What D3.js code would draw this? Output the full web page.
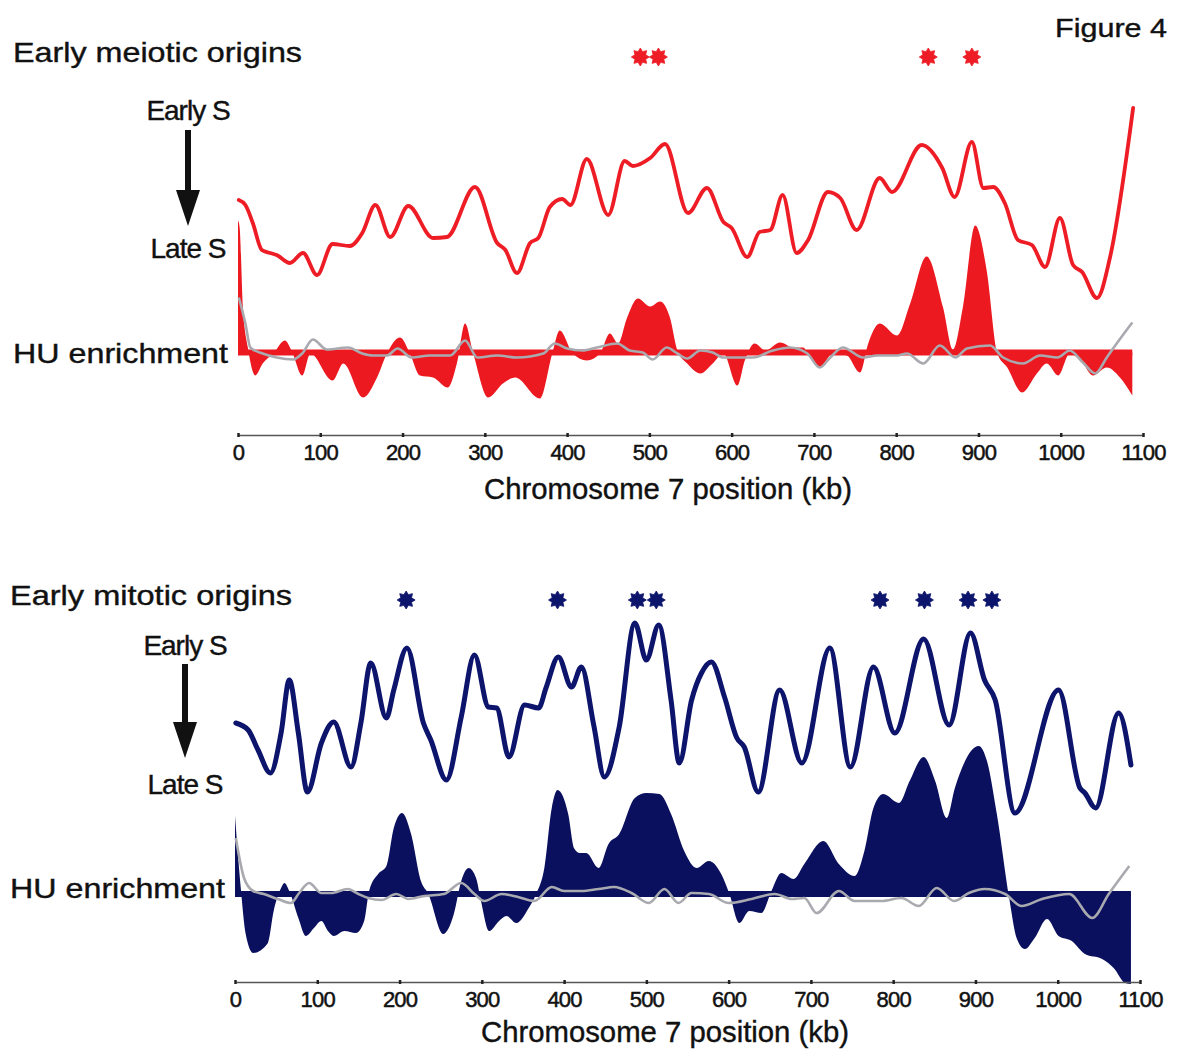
<!DOCTYPE html>
<html>
<head>
<meta charset="utf-8">
<script src="https://cdn.jsdelivr.net/npm/d3@7"></script>
<style>
  html, body { margin: 0; padding: 0; background: #ffffff; }
  svg text { font-family: "Liberation Sans", Arial, Helvetica, sans-serif; fill: #111; }
</style>
</head>
<body>
<svg id="fig" width="1178" height="1053"></svg>
<script>
// Chromosome 7 tick positions (kb)
const xTicks = [0, 100, 200, 300, 400, 500, 600, 700, 800, 900, 1000, 1100];

// Meiotic replication timing profile: [position kb, relative timing]
const meioticTiming = [[1,12.0],[9,11.5],[18,9.7],[29,7.0],[39,6.7],[47,6.5],[63,5.7],[79,6.7],[96,4.5],[115,7.6],[136,7.4],[151,8.7],[167,11.5],[185,8.3],[207,11.4],[237,8.2],[254,8.3],[288,13.3],[315,7.7],[325,7.0],[339,4.7],[355,7.7],[365,8.2],[379,11.3],[394,12.1],[404,11.5],[424,16.1],[450,10.5],[470,15.9],[480,15.4],[501,16.2],[519,17.6],[547,10.7],[570,13.2],[590,9.8],[600,9.2],[619,6.3],[634,8.8],[647,9.0],[662,12.5],[679,6.7],[693,8.0],[717,12.8],[732,12.2],[752,9.0],[780,14.2],[795,12.8],[831,17.5],[856,15.2],[871,12.3],[892,17.8],[906,13.2],[918,13.3],[932,11.7],[948,8.0],[965,7.5],[981,5.3],[999,10.2],[1015,5.5],[1026,4.8],[1044,2.2],[1060,6.3],[1088,21.2]];

// Meiotic HU enrichment: [position kb, enrichment]
const meioticHU = [[0,13.2],[2,12.5],[6,4.5],[12,0.5],[21,-2.3],[30,-1.1],[43,-0.1],[57,1.2],[66,0],[78,-2.3],[88,-0.1],[115,-2.8],[128,-1.1],[152,-4.5],[169,-2.5],[181,-0.1],[197,1.5],[209,-0.1],[221,-2.3],[237,-2.5],[255,-3.5],[266,-1.1],[276,2.9],[286,-0.1],[304,-4.5],[322,-3.1],[337,-2.5],[367,-4.6],[382,-0.1],[391,2.2],[407,-0.1],[424,-0.8],[440,-0.1],[452,1.9],[462,0.9],[473,3.5],[486,5.4],[501,4.6],[513,5.1],[525,3.5],[534,0.2],[546,-1.1],[562,-2.1],[577,-1.1],[590,-0.1],[607,-3.3],[616,-0.8],[628,0.9],[641,0.2],[659,1.0],[675,0.5],[687,0.5],[695,-0.5],[707,-1.5],[723,-0.1],[740,-0.3],[756,-2.0],[766,0.9],[780,2.9],[801,1.7],[817,4.9],[837,9.6],[857,4.5],[869,0.3],[881,4.5],[896,12.7],[910,8.2],[923,-0.1],[935,-1.5],[953,-4.0],[971,-2.1],[983,-1.1],[997,-2.3],[1011,-0.1],[1027,-1.1],[1039,-2.3],[1056,-1.5],[1072,-2.5],[1087,-4.3]];

// Meiotic control (no HU) enrichment: [position kb, enrichment]
const meioticControl = [[1,5.5],[9,2.9],[15,0.5],[30,-0.1],[47,-0.5],[67,-0.7],[78,-0.1],[91,1.3],[108,0.3],[134,0.5],[151,-0.1],[164,-0.3],[181,-0.3],[194,0.4],[211,-0.5],[233,-0.3],[258,-0.3],[276,1.2],[291,-0.5],[315,-0.3],[339,-0.5],[371,-0.1],[385,0.9],[400,0.4],[419,0.2],[436,0.5],[461,0.9],[476,0.2],[492,0],[504,-0.7],[521,0.5],[534,-0.1],[546,-0.6],[562,0.2],[577,0],[590,-0.5],[626,-0.5],[650,0.2],[671,0.5],[692,-0.1],[707,-1.5],[720,-0.5],[735,0.5],[760,-0.5],[777,-0.3],[801,-0.3],[813,-0.1],[833,-1.1],[853,0.7],[872,-0.5],[886,0.4],[914,0.7],[930,-0.5],[954,-1.1],[975,-0.3],[996,-0.5],[1011,0.2],[1027,-1.0],[1042,-2.1],[1056,-0.5],[1068,0.9],[1087,3.0]];

// Early meiotic origins (kb)
const meioticOrigins = [489, 511, 839, 892];

// Mitotic replication timing profile: [position kb, relative timing]
const mitoticTiming = [[1,13.8],[16,13.1],[28,11.1],[43,8.8],[56,12.8],[66,18.1],[77,12.8],[88,6.9],[105,11.8],[120,13.9],[141,9.4],[153,13.8],[165,19.8],[184,14.3],[193,17.1],[209,21.3],[229,13.8],[238,12.1],[257,8.1],[275,14.4],[291,20.6],[308,15.4],[318,15.3],[333,10.4],[352,15.6],[369,15.3],[378,17.3],[393,20.4],[409,17.4],[421,19.4],[436,13.6],[449,8.4],[467,13.4],[486,23.8],[500,20.1],[515,23.6],[530,16.1],[540,9.8],[555,16.1],[567,18.8],[579,19.9],[595,16.4],[610,12.3],[619,11.4],[636,6.9],[662,17.1],[689,9.8],[723,21.3],[748,9.4],[776,19.4],[802,12.8],[837,22.2],[868,13.6],[894,22.8],[911,18.1],[924,16.1],[948,4.8],[1001,17.1],[1027,7.3],[1033,6.8],[1046,5.3],[1074,14.8],[1089,9.6]];

// Mitotic HU enrichment: [position kb, enrichment]
const mitoticHU = [[0,7.8],[7,0.6],[13,-4.0],[22,-5.9],[40,-4.9],[47,-1.7],[56,0.6],[60,1.1],[66,0.3],[77,-2.4],[86,-4.2],[96,-3.4],[105,-2.7],[113,-3.7],[120,-4.2],[133,-3.7],[147,-3.9],[157,-2.7],[163,0.3],[174,2.0],[184,2.8],[193,6.6],[203,8.1],[214,6.0],[226,1.3],[235,0],[253,-4.0],[266,-2.0],[275,1.3],[284,2.6],[293,1.6],[299,-0.7],[309,-3.7],[321,-2.7],[330,-2.2],[342,-2.9],[357,-1.4],[366,0],[376,2.6],[385,8.6],[392,10.4],[405,8.0],[412,4.6],[419,4.1],[427,4.1],[442,2.6],[454,5.0],[467,6.0],[486,9.6],[500,10.1],[516,10.0],[530,8.0],[546,4.3],[561,2.6],[576,3.3],[591,2.0],[601,0],[613,-2.9],[625,-1.7],[640,-1.9],[652,0.3],[664,2.1],[679,1.5],[692,3.0],[715,5.3],[734,3.0],[753,1.8],[765,4.3],[776,8.6],[788,10.0],[807,9.1],[820,11.3],[837,13.7],[851,11.3],[865,7.6],[875,10.6],[904,14.8],[914,13.3],[926,8.0],[941,-0.4],[950,-4.4],[960,-5.5],[972,-4.4],[987,-2.5],[1001,-4.2],[1017,-4.7],[1033,-6.0],[1054,-6.5],[1068,-7.4],[1082,-8.9],[1089,-9.0]];

// Mitotic control (no HU) enrichment: [position kb, enrichment]
const mitoticControl = [[1,5.6],[11,1.6],[22,0.3],[35,0],[52,-0.5],[68,-0.9],[78,0.1],[90,1.1],[105,0.1],[117,0.1],[137,0.5],[150,0],[162,-0.4],[178,-0.6],[196,0],[211,-0.5],[230,-0.2],[254,0],[275,1.1],[291,0],[303,-0.7],[324,0],[344,-0.3],[364,-0.7],[385,0.7],[400,0.3],[421,0.3],[442,0.5],[461,0.7],[482,0.1],[503,-0.9],[522,0.5],[539,-0.9],[555,0.1],[576,0],[600,-0.9],[628,-0.5],[656,0],[677,-0.5],[692,-0.4],[707,-1.9],[734,0.3],[753,-0.7],[786,-0.7],[810,-0.4],[831,-1.2],[853,0.6],[874,-0.7],[892,0.1],[911,0.5],[936,0],[956,-1.2],[981,-0.5],[1014,0],[1042,-2.4],[1062,0],[1087,2.8]];

// Early mitotic origins (kb)
const mitoticOrigins = [208, 392, 489, 512, 784, 838, 891, 920];

const svg = d3.select("#fig");
const FONT = 28;
const GRAY = "#a9a9b0";

// Heavy eight-pointed asterisk used to flag early origins
function starPath(rOut, rIn) {
  const pts = [];
  for (let i = 0; i < 16; i++) {
    const r = i % 2 === 0 ? rOut : rIn;
    const a = -Math.PI / 2 + i * Math.PI / 8;
    pts.push([r * Math.cos(a), r * Math.sin(a)]);
  }
  return d3.line().curve(d3.curveLinearClosed)(pts);
}

function drawPanel(p) {
  const g = svg.append("g");
  const x = d3.scaleLinear().domain([0, 1100]).range(p.xRange);
  const yT = d3.scaleLinear().domain([0, 25]).range(p.timingRange);
  const yH = d3.scaleLinear().domain([-10, 15]).range(p.huRange);

  // HU enrichment filled profile around zero
  const area = d3.area()
    .x(d => x(d[0])).y0(yH(0)).y1(d => yH(d[1]))
    .curve(d3.curveMonotoneX);
  g.append("path").datum(p.hu).attr("d", area).attr("fill", p.fill);
  const huExt = d3.extent(p.hu, d => d[0]);
  g.append("line")
    .attr("x1", x(huExt[0])).attr("x2", x(huExt[1]))
    .attr("y1", yH(0)).attr("y2", yH(0))
    .attr("stroke", p.fill).attr("stroke-width", 6);

  // Control (no HU) profile
  const line = (ys) => d3.line().x(d => x(d[0])).y(d => ys(d[1])).curve(d3.curveMonotoneX);
  g.append("path").datum(p.control).attr("d", line(yH))
    .attr("fill", "none").attr("stroke", GRAY).attr("stroke-width", 2.6)
    .attr("stroke-linejoin", "round");

  // Replication timing profile
  g.append("path").datum(p.timing).attr("d", line(yT))
    .attr("fill", "none").attr("stroke", p.stroke).attr("stroke-width", p.lineWidth)
    .attr("stroke-linejoin", "round").attr("stroke-linecap", "round");

  // Early origins
  g.selectAll("path.origin").data(p.origins).enter().append("path")
    .attr("class", "origin")
    .attr("d", starPath(9, 5.8))
    .attr("transform", d => `translate(${x(d)},${p.starY})`)
    .attr("fill", p.stroke)
    .attr("stroke", p.stroke).attr("stroke-width", 0.8).attr("stroke-linejoin", "round");

  // Chromosome axis
  const axis = d3.axisBottom(x).tickValues(xTicks).tickSize(0).tickPadding(0).tickSizeOuter(0);
  const ag = g.append("g").attr("transform", `translate(0,${p.axisY})`).call(axis);
  ag.select(".domain").attr("stroke", "#555").attr("stroke-width", 1.6);
  ag.selectAll(".tick text").remove();
  ag.selectAll(".tick").append("line").attr("y1", -2).attr("y2", 2)
    .attr("stroke", "#222").attr("stroke-width", 2.5);
  ag.selectAll(".tick").append("text")
    .attr("y", 25).attr("text-anchor", "middle")
    .style("font-size", "22px").style("letter-spacing", "-0.8px")
    .style("fill", "#111").style("stroke", "#111").style("stroke-width", 0.5)
    .text(d => d);

  g.append("text").attr("x", p.axisTitleX).attr("y", p.axisTitleY)
    .attr("text-anchor", "middle").attr("textLength", 368).attr("lengthAdjust", "spacingAndGlyphs")
    .style("font-size", "29px").style("stroke", "#111").style("stroke-width", 0.4)
    .text("Chromosome 7 position (kb)");

  // Side labels
  g.append("text").attr("x", p.titleX).attr("y", p.titleY)
    .attr("textLength", p.titleW).attr("lengthAdjust", "spacingAndGlyphs")
    .style("font-size", FONT + "px").style("stroke", "#111").style("stroke-width", 0.4)
    .text(p.title);
  g.append("text").attr("x", p.arrowX).attr("y", p.earlyY).attr("text-anchor", "middle")
    .style("font-size", FONT + "px").style("letter-spacing", "-1px")
    .style("stroke", "#111").style("stroke-width", 0.4).text("Early S");
  g.append("text").attr("x", p.arrowX).attr("y", p.lateY).attr("text-anchor", "middle")
    .style("font-size", FONT + "px").style("letter-spacing", "-1px")
    .style("stroke", "#111").style("stroke-width", 0.4).text("Late S");
  g.append("text").attr("x", p.titleX).attr("y", p.huY)
    .attr("textLength", 215).attr("lengthAdjust", "spacingAndGlyphs")
    .style("font-size", FONT + "px").style("stroke", "#111").style("stroke-width", 0.4)
    .text("HU enrichment");

  // Early-to-late arrow
  g.append("line").attr("x1", p.arrowX).attr("x2", p.arrowX)
    .attr("y1", p.arrowTop).attr("y2", p.arrowHead + 2)
    .attr("stroke", "#111").attr("stroke-width", 6);
  g.append("path")
    .attr("d", `M${p.arrowX - 12},${p.arrowHead} L${p.arrowX + 12},${p.arrowHead} L${p.arrowX},${p.arrowTip} Z`)
    .attr("fill", "#111");
}

drawPanel({
  timing: meioticTiming, hu: meioticHU, control: meioticControl, origins: meioticOrigins,
  stroke: "#ee1d25", fill: "#ec1a20", lineWidth: 3.8,
  xRange: [238, 1143], timingRange: [320, 70], huRange: [452.5, 202.5],
  starY: 57, axisY: 435, axisTitleX: 668, axisTitleY: 499,
  title: "Early meiotic origins", titleX: 13, titleY: 62, titleW: 289,
  earlyY: 120, lateY: 258, huY: 363,
  arrowX: 188, arrowTop: 130, arrowHead: 190, arrowTip: 226
});

drawPanel({
  timing: mitoticTiming, hu: mitoticHU, control: mitoticControl, origins: mitoticOrigins,
  stroke: "#0c146b", fill: "#0a105e", lineWidth: 5,
  xRange: [235, 1140], timingRange: [861, 611], huRange: [994, 744],
  starY: 600, axisY: 982, axisTitleX: 665, axisTitleY: 1042,
  title: "Early mitotic origins", titleX: 10, titleY: 605, titleW: 282,
  earlyY: 655, lateY: 794, huY: 898,
  arrowX: 185, arrowTop: 664, arrowHead: 722, arrowTip: 758
});

svg.append("text").attr("x", 1055).attr("y", 37)
  .attr("textLength", 112).attr("lengthAdjust", "spacingAndGlyphs")
  .style("font-size", "26px").style("stroke", "#111").style("stroke-width", 0.4)
  .text("Figure 4");
</script>
</body>
</html>
